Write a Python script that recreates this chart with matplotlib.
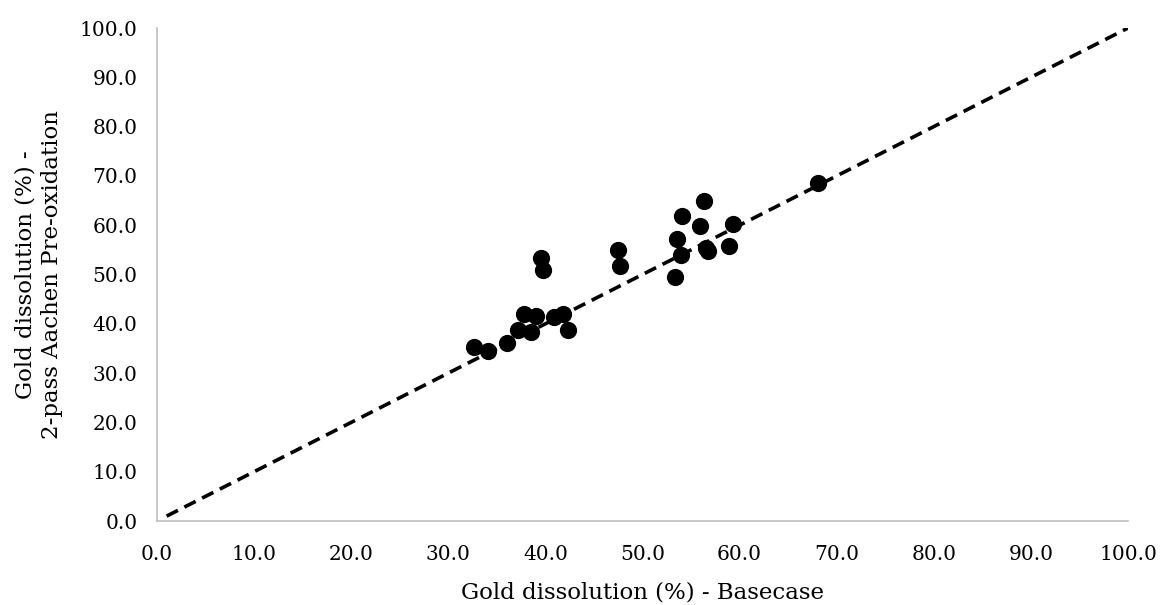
import matplotlib.pyplot as plt
import numpy as np

# Gold dissolution (%) - basecase vs 2-pass Aachen pre-oxidation
basecase = [32.6, 34.1, 36.1, 37.2, 37.8, 38.5, 39.0, 39.5, 39.8, 40.9,
            41.8, 42.3, 47.5, 47.7, 53.4, 53.6, 54.0, 54.1, 55.9, 56.3,
            56.5, 56.7, 58.9, 59.3, 68.1]
aachen = [35.2, 34.5, 36.1, 38.7, 41.9, 38.3, 41.6, 53.4, 50.9, 41.4,
          42.0, 38.7, 54.9, 51.7, 49.4, 57.2, 54.0, 61.9, 59.8, 65.0,
          55.3, 54.8, 55.8, 60.2, 68.5]

line_x = [1.0, 100.0]
line_y = [1.0, 100.0]

ticks = np.arange(0, 101, 10)

plt.rcParams['font.family'] = ['DejaVu Serif']

fig = plt.figure(figsize=(11.6, 6.05), dpi=100)
ax = fig.add_axes([0.1353, 0.1388, 0.8371, 0.8149])

ax.plot(line_x, line_y, color='black', linestyle=(0, (3.5, 2)), linewidth=2.6, zorder=2)
ax.scatter(basecase, aachen, s=130, color='black', zorder=3)

ax.set_xlim(0, 100)
ax.set_ylim(0, 100)
ax.set_xticks(ticks)
ax.set_yticks(ticks)
ax.set_xticklabels([f'{t:.1f}' for t in ticks])
ax.set_yticklabels([f'{t:.1f}' for t in ticks])
ax.tick_params(length=0, labelsize=14.5)
ax.tick_params(axis='x', pad=17)
ax.tick_params(axis='y', pad=14)

for s in ['top', 'right']:
    ax.spines[s].set_visible(False)
for s in ['left', 'bottom']:
    ax.spines[s].set_color('#bfbfbf')
    ax.spines[s].set_linewidth(1.2)

ax.set_xlabel('Gold dissolution (%) - Basecase', fontsize=16.5, labelpad=13)
ax.set_ylabel('Gold dissolution (%) -\n2-pass Aachen Pre-oxidation', fontsize=16.5,
              labelpad=12, linespacing=1.25)

fig.savefig('out.png', dpi=100)
